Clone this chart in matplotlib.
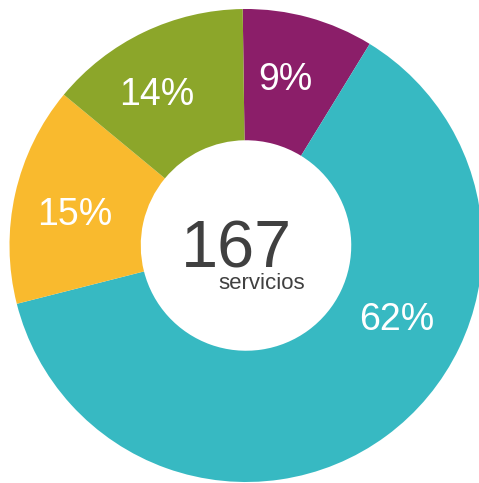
import matplotlib
matplotlib.use("Agg")
import matplotlib.pyplot as plt

plt.rcParams['font.family'] = ['Liberation Sans', 'DejaVu Sans']

categories = ["A", "B", "C", "D"]
values = [15, 104, 25, 23]
pct_labels = ["9%", "62%", "15%", "14%"]
colors = ["#8B1E69", "#37B9C2", "#F9BA2E", "#8CA62A"]
total_text = "167"
sub_text = "servicios"

W, H = 479, 483
fig = plt.figure(figsize=(W / 100, H / 100), dpi=100)
# circle bounding box in pixels
cx, cy, R = 246, 245.5, 236.5
ax = fig.add_axes([(cx - R) / W, (H - cy - R) / H, 2 * R / W, 2 * R / H])
ax.axis('off')

ax.pie(values, colors=colors, startangle=90.8, counterclock=False, radius=1,
       wedgeprops=dict(width=0.555, linewidth=0))
ax.set_xlim(-1, 1)
ax.set_ylim(-1, 1)
ax.set_aspect('equal')

# label pixel positions converted to data coords
label_px = [(285, 80), (397, 320), (75, 215), (157, 95)]
for (px, py), t in zip(label_px, pct_labels):
    ax.text((px - cx) / R, (cy - py) / R, t, color="white", fontsize=27,
            ha="center", va="center")

ax.text((236 - cx) / R, (cy - 268) / R, total_text, color="#404040", fontsize=48,
        ha="center", va="baseline")
ax.text((262 - cx) / R, (cy - 289) / R, sub_text, color="#404040", fontsize=16,
        ha="center", va="baseline")

fig.savefig("out.png", dpi=100)
